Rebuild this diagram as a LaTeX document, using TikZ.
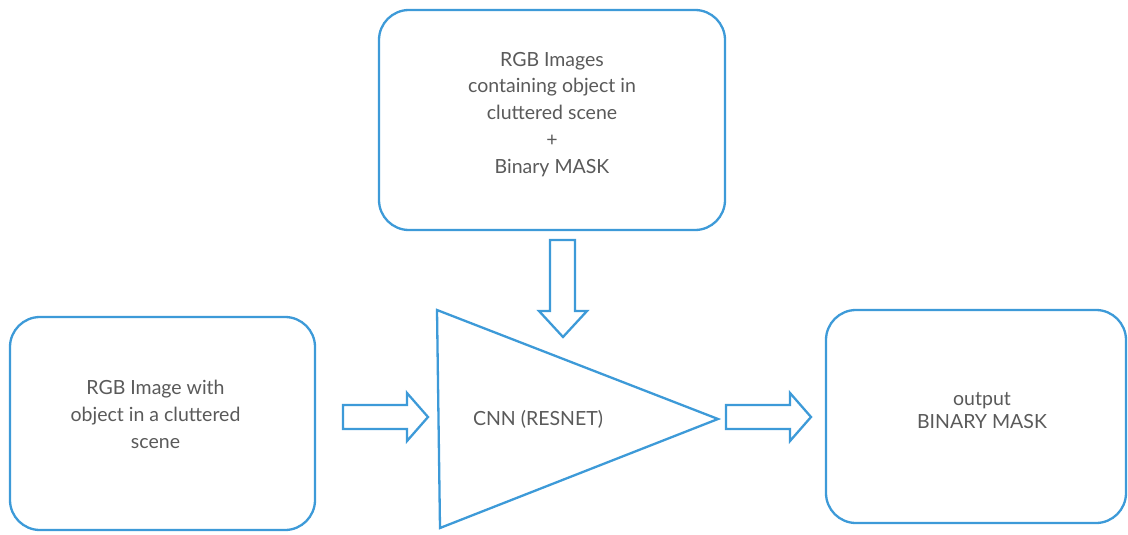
\documentclass[tikz,border=0pt]{standalone}
\usepackage{fontspec}
\setmainfont{Lato}
\definecolor{lineblue}{HTML}{3D9AD8}
\definecolor{txtgray}{HTML}{5A5A5A}
\begin{document}
\begin{tikzpicture}[x=1pt,y=-1pt,
  box/.style={draw=lineblue,line width=2.3pt,rounded corners=30pt,fill=white,inner sep=0pt},
  blockarrow/.style={draw=lineblue,line width=2.3pt,line join=miter,fill=white},
  lbl/.style={text=txtgray,align=center,font=\fontsize{19.5}{26.9}\selectfont},
  lbltwo/.style={text=txtgray,align=center,font=\fontsize{19.5}{23}\selectfont}]
\useasboundingbox (0,0) rectangle (1128,535);
\node[box,minimum width=346pt,minimum height=220pt] (top) at (552,120) {};
\node[lbl] (toptxt) at (552,114.5) {RGB Images\\containing object in\\cluttered scene\\+\\Binary MASK};
\node[box,minimum width=305pt,minimum height=213pt] (left) at (162.5,423.5) {};
\node[lbl] (lefttxt) at (155.5,414) {RGB Image with\\object in a cluttered\\scene};
\node[box,minimum width=300pt,minimum height=213pt] (right) at (976,416.5) {};
\node[lbltwo] (righttxt) at (982,411) {output\\BINARY MASK};
% triangle
\coordinate (t1) at (437,310);
\coordinate (t2) at (440,528);
\coordinate (t3) at (718,419);
\draw[blockarrow] (t1) -- (t3) -- (t2) -- cycle;
\node[lbltwo] (cnn) at (538,419) {CNN (RESNET)};
% down arrow
\draw[blockarrow] (550,240) -- (575,240) -- (575,311) -- (587,311) -- (563,337) -- (539,311) -- (550,311) -- cycle;
% left arrow
\draw[blockarrow] (343,405) -- (407,405) -- (407,393) -- (428,417) -- (407,441) -- (407,429) -- (343,429) -- cycle;
% right arrow
\draw[blockarrow] (726,405) -- (790,405) -- (790,393) -- (811,417) -- (790,441) -- (790,429) -- (726,429) -- cycle;
\end{tikzpicture}
\end{document}
